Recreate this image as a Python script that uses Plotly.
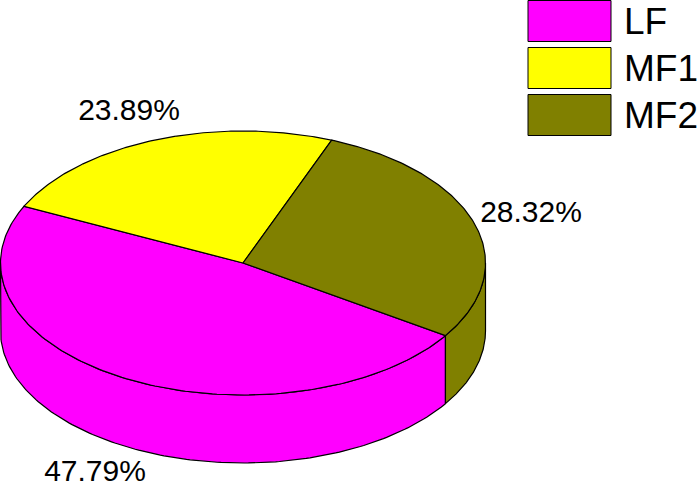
import numpy as np
import plotly.graph_objects as go

##資料
labels = ["LF", "MF1", "MF2"]
values = [47.79, 23.89, 28.32]
colors = ["#FF00FF", "#FFFF00", "#808000"]
pct_text = ["47.79%", "23.89%", "28.32%"]
pct_x = [95, 129, 531]
pct_y = [473, 112, 214]

##餅圖幾何設定
cx, cy = 243, 263
rx, ry = 242.5, 132
depth = 68
start = -33.4  # LF starts here, goes clockwise
line = dict(color="#000000", width=1.2)


def arc(t1, t2, dy=0):
    t = np.radians(np.linspace(t1, t2, 160))
    return cx + rx * np.cos(t), cy - ry * np.sin(t) + dy


##每塊角度
spans = np.array(values) / sum(values) * 360
ends = start - np.cumsum(spans)
begins = ends + spans

fig = go.Figure()

##側面 (only the front half of the rim is visible)
for b, e, c in zip(begins, ends, colors):
    for k in (0, 360):
        b2, e2 = min(b + k, 0), max(e + k, -180)
        if b2 <= e2:
            continue
        x1, y1 = arc(b2, e2)
        x2, y2 = arc(e2, b2, depth)
        fig.add_trace(go.Scatter(
            x=np.r_[x1, x2, x1[0]], y=np.r_[y1, y2, y1[0]], mode="lines", fill="toself",
            fillcolor=c, line=line, hoverinfo="skip", showlegend=False,
        ))

##上面
for b, e, c, name in zip(begins, ends, colors, labels):
    x1, y1 = arc(b, e)
    fig.add_trace(go.Scatter(
        x=np.r_[cx, x1, cx], y=np.r_[cy, y1, cy], mode="lines", fill="toself",
        fillcolor=c, line=line, name=name, showlegend=False,
    ))

##百分比文字
fig.add_trace(go.Scatter(
    x=pct_x, y=pct_y, mode="text", text=pct_text, textposition="middle center",
    textfont=dict(family="Liberation Sans", size=30, color="#000000"),
    hoverinfo="skip", showlegend=False, cliponaxis=False,
))

##圖例
for i, (name, c) in enumerate(zip(labels, colors)):
    top = 0.5 + i * 47
    fig.add_shape(type="rect", x0=528, x1=611, y0=top, y1=top + 41,
                  fillcolor=c, line=dict(color="#000000", width=1))
    fig.add_annotation(x=622, y=top + 21, text=name, showarrow=False, xanchor="left",
                       font=dict(family="Liberation Sans", size=37, color="#000000"))

fig.update_layout(
    width=698, height=486,
    margin=dict(l=0, r=0, t=0, b=0),
    paper_bgcolor="#FFFFFF", plot_bgcolor="#FFFFFF",
    xaxis=dict(range=[0, 698], visible=False, fixedrange=True),
    yaxis=dict(range=[486, 0], visible=False, fixedrange=True),
)

##去掉網頁預設邊距
fig.write_html("out.html", config={"displayModeBar": False},
               post_script="document.body.style.margin='0';document.body.style.overflow='hidden';")
